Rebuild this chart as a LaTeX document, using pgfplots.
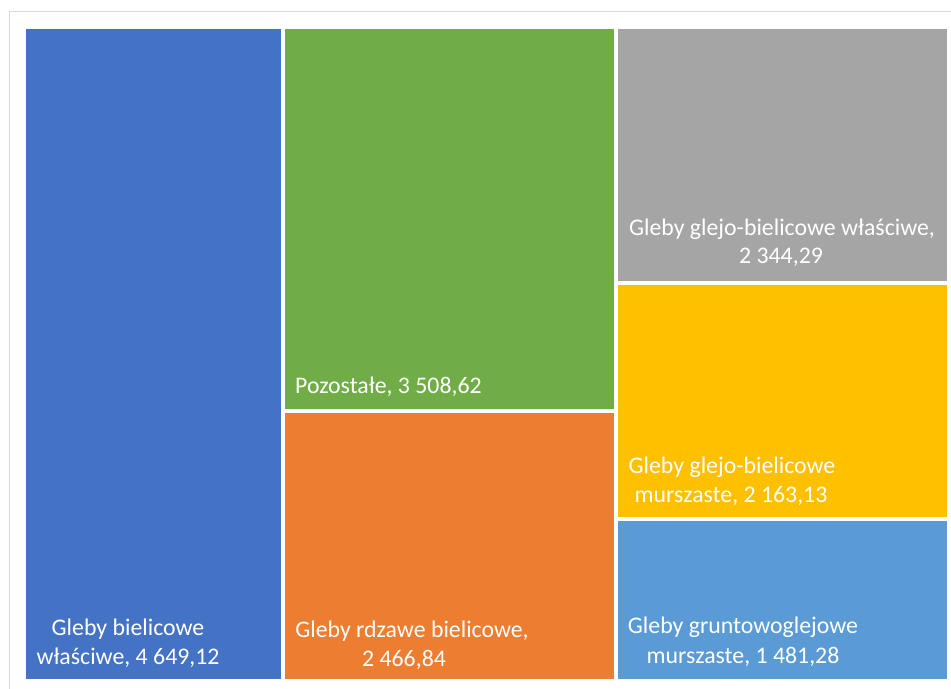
\documentclass[border=0pt]{standalone}
\usepackage{fontspec}
\setmainfont{Carlito}
\usepackage{pgfplots}
\pgfplotsset{compat=1.18}
\definecolor{cblue}{HTML}{4472C4}
\definecolor{cgreen}{HTML}{70AD47}
\definecolor{corange}{HTML}{ED7D31}
\definecolor{cgray}{HTML}{A5A5A5}
\definecolor{cyellow}{HTML}{FFC000}
\definecolor{clblue}{HTML}{5B9BD5}
\definecolor{cborder}{HTML}{D9D9D9}
\tikzset{lbl/.style={text=white,inner sep=0pt,font=\fontsize{23.9}{29}\selectfont}}
\begin{document}
\begin{tikzpicture}
\begin{axis}[width=951bp,height=689bp,scale only axis,
  xmin=0,xmax=951,ymin=0,ymax=689,y dir=reverse,hide axis,clip=true]
% background and chart border
\addplot[fill=white,draw=none] coordinates {(0,0)(951,0)(951,689)(0,689)} --cycle;
\addplot[draw=cborder,line width=1pt] coordinates {(9,689)(9,12)(951,12)};
% treemap tiles (pixel rectangles proportional to values)
% Gleby bielicowe właściwe 4649.12
\addplot[fill=cblue,draw=none] coordinates {(26,29)(281,29)(281,679)(26,679)} --cycle;
% Pozostałe 3508.62
\addplot[fill=cgreen,draw=none] coordinates {(285,29)(614,29)(614,409)(285,409)} --cycle;
% Gleby rdzawe bielicowe 2466.84
\addplot[fill=corange,draw=none] coordinates {(285,413)(614,413)(614,679)(285,679)} --cycle;
% Gleby glejo-bielicowe właściwe 2344.29
\addplot[fill=cgray,draw=none] coordinates {(618,29)(947,29)(947,281)(618,281)} --cycle;
% Gleby glejo-bielicowe murszaste 2163.13
\addplot[fill=cyellow,draw=none] coordinates {(618,285)(947,285)(947,517)(618,517)} --cycle;
% Gleby gruntowoglejowe murszaste 1481.28
\addplot[fill=clblue,draw=none] coordinates {(618,521)(947,521)(947,679)(618,679)} --cycle;
% labels
\node[lbl,anchor=base] at (axis cs:128,635) {Gleby bielicowe};
\node[lbl,anchor=base] at (axis cs:128,664) {właściwe, 4 649,12};
\node[lbl,anchor=base west] at (axis cs:295,393) {Pozostałe, 3 508,62};
\node[lbl,anchor=base] at (axis cs:412,637) {Gleby rdzawe bielicowe,};
\node[lbl,anchor=base] at (axis cs:404,666) {2 466,84};
\node[lbl,anchor=base] at (axis cs:782,235) {Gleby glejo-bielicowe właściwe,};
\node[lbl,anchor=base] at (axis cs:781,263) {2 344,29};
\node[lbl,anchor=base] at (axis cs:732,473) {Gleby glejo-bielicowe};
\node[lbl,anchor=base] at (axis cs:731,502) {murszaste, 2 163,13};
\node[lbl,anchor=base] at (axis cs:743,633) {Gleby gruntowoglejowe};
\node[lbl,anchor=base] at (axis cs:743,663) {murszaste, 1 481,28};
\end{axis}
\end{tikzpicture}
\end{document}
